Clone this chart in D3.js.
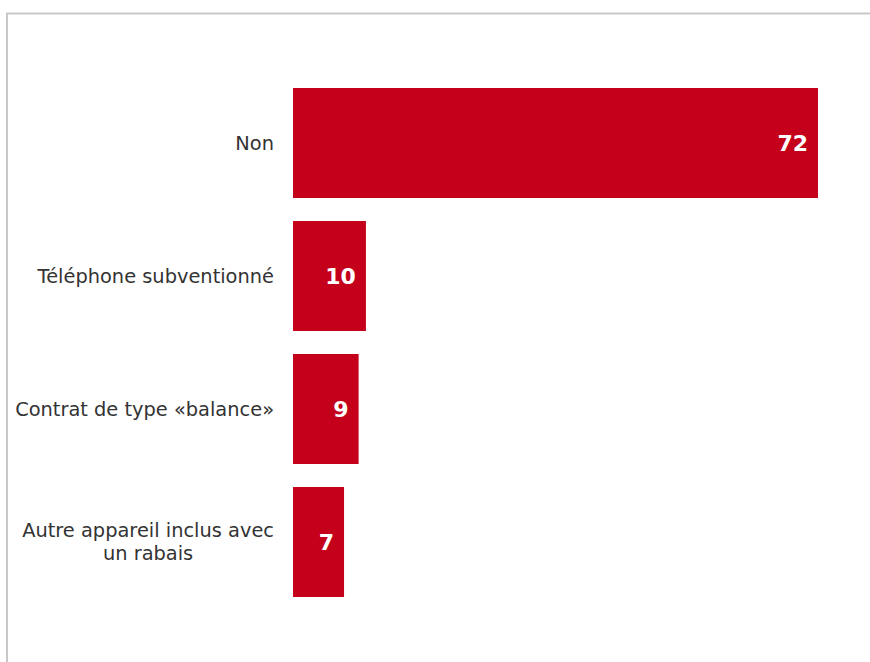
<!DOCTYPE html>
<html>
<head>
<meta charset="utf-8">
<script src="https://cdn.jsdelivr.net/npm/d3@7"></script>
<style>
  html, body { margin: 0; padding: 0; background: #fff; }
  svg { display: block; }
</style>
</head>
<body>
<svg id="chart" width="870" height="662"></svg>
<script>
const categories = [
  ["Non"],
  ["Téléphone subventionné"],
  ["Contrat de type «balance»"],
  ["Autre appareil inclus avec", "un rabais"]
];
const values = [72, 10, 9, 7];

const svg = d3.select("#chart");
const W = 870, H = 662;

// frame around the plot area
svg.append("rect")
  .attr("x", 7).attr("y", 13.5)
  .attr("width", W + 10).attr("height", H + 10)
  .attr("fill", "none").attr("stroke", "#c8c8c8").attr("stroke-width", 2);

const plotLeft = 293, plotTop = 88 - 11.5, plotBottom = 597 + 11.5;
const keys = categories.map((c, i) => i);

const x = d3.scaleLinear().domain([0, 72]).range([plotLeft, 818]);
const y = d3.scaleBand().domain(keys).range([plotTop, plotBottom])
  .paddingInner(23 / 133).paddingOuter(11.5 / 133);

const font = "'DejaVu Sans', Verdana, sans-serif";

svg.append("g").selectAll("rect")
  .data(values)
  .join("rect")
  .attr("x", x(0))
  .attr("y", (d, i) => y(i))
  .attr("width", d => x(d) - x(0))
  .attr("height", y.bandwidth())
  .attr("fill", "#c4001a");

svg.append("g").selectAll("text")
  .data(values)
  .join("text")
  .attr("x", d => x(d) - 10)
  .attr("y", (d, i) => y(i) + y.bandwidth() / 2)
  .attr("dy", "0.36em")
  .attr("text-anchor", "end")
  .attr("font-family", font)
  .attr("font-size", 22)
  .attr("font-weight", "bold")
  .attr("fill", "#fff")
  .text(d => d);

// category labels: right-aligned block, lines centred inside it
const labelRight = 274;
const lineH = 23;
const lg = svg.append("g");
categories.forEach((lines, i) => {
  const g = lg.append("g");
  const cy = y(i) + y.bandwidth() / 2;
  const texts = lines.map((t, j) => g.append("text")
    .attr("y", cy + (j - (lines.length - 1) / 2) * lineH)
    .attr("dy", "0.36em")
    .attr("font-family", font)
    .attr("font-size", 19.4)
    .attr("fill", "#333")
    .text(t));
  const widths = texts.map(t => t.node().getComputedTextLength());
  const maxW = d3.max(widths);
  texts.forEach(t => t.attr("x", labelRight - maxW / 2).attr("text-anchor", "middle"));
});
</script>
</body>
</html>
